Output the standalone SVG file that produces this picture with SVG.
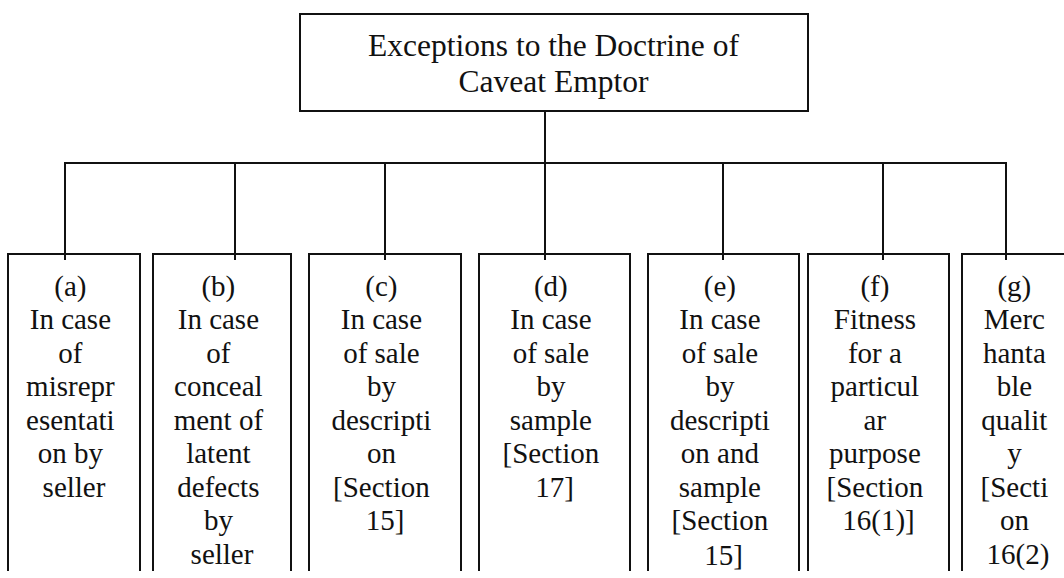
<svg xmlns="http://www.w3.org/2000/svg" width="1064" height="578" viewBox="0 0 1064 578">
  <style>
    .box { fill: #ffffff; stroke: #111111; stroke-width: 2; }
    .wire { fill: none; stroke: #111111; stroke-width: 2; }
    .head { font-family: "Liberation Serif", "Times New Roman", serif; font-size: 31.5px; fill: #111111; text-anchor: middle; }
    .lbl { font-family: "Liberation Serif", "Times New Roman", serif; font-size: 29px; fill: #111111; text-anchor: middle; }
  </style>
  <defs>
    <clipPath id="sheet">
      <rect x="0" y="0" width="1064" height="571"/>
    </clipPath>
  </defs>
  <rect x="0" y="0" width="1064" height="578" fill="#ffffff"/>

  <!-- connectors: trunk, bus and drops -->
  <g id="connectors" class="wire">
    <line x1="545" y1="111" x2="545" y2="163"/>
    <line x1="64" y1="163" x2="1007" y2="163"/>
    <line x1="65" y1="163" x2="65" y2="260"/>
    <line x1="235" y1="163" x2="235" y2="260"/>
    <line x1="385" y1="163" x2="385" y2="260"/>
    <line x1="545" y1="163" x2="545" y2="260"/>
    <line x1="723" y1="163" x2="723" y2="260"/>
    <line x1="883" y1="163" x2="883" y2="260"/>
    <line x1="1006" y1="163" x2="1006" y2="260"/>
  </g>

  <!-- heading -->
  <g id="root">
    <rect class="box" x="300" y="14" width="508" height="97"/>
    <text class="head" x="553.5" y="55.5">Exceptions to the Doctrine of</text>
    <text class="head" x="553.5" y="91.7">Caveat Emptor</text>
  </g>

  <g clip-path="url(#sheet)">
    <g id="node-a">
      <rect class="box" x="8" y="254" width="132" height="340"/>
      <text class="lbl" x="74">
        <tspan x="74" y="295.5">(a)</tspan>
        <tspan x="74" y="329">In case</tspan>
        <tspan x="74" y="362.5">of</tspan>
        <tspan x="74" y="396">misrepr</tspan>
        <tspan x="74" y="429.5">esentati</tspan>
        <tspan x="74" y="463">on by</tspan>
        <tspan x="74" y="496.5">seller</tspan>
      </text>
    </g>

    <g id="node-b">
      <rect class="box" x="153" y="254" width="138" height="340"/>
      <text class="lbl" x="222">
        <tspan x="222" y="295.5">(b)</tspan>
        <tspan x="222" y="329">In case</tspan>
        <tspan x="222" y="362.5">of</tspan>
        <tspan x="222" y="396">conceal</tspan>
        <tspan x="222" y="429.5">ment of</tspan>
        <tspan x="222" y="463">latent</tspan>
        <tspan x="222" y="496.5">defects</tspan>
        <tspan x="222" y="530">by</tspan>
        <tspan x="222" y="563.5">seller</tspan>
      </text>
    </g>

    <g id="node-c">
      <rect class="box" x="309" y="254" width="152" height="340"/>
      <text class="lbl" x="385">
        <tspan x="385" y="295.5">(c)</tspan>
        <tspan x="385" y="329">In case</tspan>
        <tspan x="385" y="362.5">of sale</tspan>
        <tspan x="385" y="396">by</tspan>
        <tspan x="385" y="429.5">descripti</tspan>
        <tspan x="385" y="463">on</tspan>
        <tspan x="385" y="496.5">[Section</tspan>
        <tspan x="385" y="530">15]</tspan>
      </text>
    </g>

    <g id="node-d">
      <rect class="box" x="479" y="254" width="151" height="340"/>
      <text class="lbl" x="554.5">
        <tspan x="554.5" y="295.5">(d)</tspan>
        <tspan x="554.5" y="329">In case</tspan>
        <tspan x="554.5" y="362.5">of sale</tspan>
        <tspan x="554.5" y="396">by</tspan>
        <tspan x="554.5" y="429.5">sample</tspan>
        <tspan x="554.5" y="463">[Section</tspan>
        <tspan x="554.5" y="496.5">17]</tspan>
      </text>
    </g>

    <g id="node-e">
      <rect class="box" x="648" y="254" width="151" height="340"/>
      <text class="lbl" x="723.5">
        <tspan x="723.5" y="295.5">(e)</tspan>
        <tspan x="723.5" y="329">In case</tspan>
        <tspan x="723.5" y="362.5">of sale</tspan>
        <tspan x="723.5" y="396">by</tspan>
        <tspan x="723.5" y="429.5">descripti</tspan>
        <tspan x="723.5" y="463">on and</tspan>
        <tspan x="723.5" y="496.5">sample</tspan>
        <tspan x="723.5" y="530">[Section</tspan>
        <tspan x="723.5" y="564.5">15]</tspan>
      </text>
    </g>

    <g id="node-f">
      <rect class="box" x="808" y="254" width="141" height="340"/>
      <text class="lbl" x="878.5">
        <tspan x="878.5" y="295.5">(f)</tspan>
        <tspan x="878.5" y="329">Fitness</tspan>
        <tspan x="878.5" y="362.5">for a</tspan>
        <tspan x="878.5" y="396">particul</tspan>
        <tspan x="878.5" y="429.5">ar</tspan>
        <tspan x="878.5" y="463">purpose</tspan>
        <tspan x="878.5" y="496.5">[Section</tspan>
        <tspan x="878.5" y="530">16(1)]</tspan>
      </text>
    </g>

    <g id="node-g">
      <rect class="box" x="962" y="254" width="114" height="340"/>
      <text class="lbl" x="1018">
        <tspan x="1018" y="295.5">(g)</tspan>
        <tspan x="1018" y="329">Merc</tspan>
        <tspan x="1018" y="362.5">hanta</tspan>
        <tspan x="1018" y="396">ble</tspan>
        <tspan x="1018" y="429.5">qualit</tspan>
        <tspan x="1018" y="463">y</tspan>
        <tspan x="1018" y="496.5">[Secti</tspan>
        <tspan x="1018" y="530">on</tspan>
        <tspan x="1018" y="563.5">16(2)</tspan>
      </text>
    </g>
  </g>

  <!-- drops are drawn over the box tops -->
  <g id="drops" class="wire">
    <line x1="65" y1="250" x2="65" y2="260"/>
    <line x1="235" y1="250" x2="235" y2="260"/>
    <line x1="385" y1="250" x2="385" y2="260"/>
    <line x1="545" y1="250" x2="545" y2="260"/>
    <line x1="723" y1="250" x2="723" y2="260"/>
    <line x1="883" y1="250" x2="883" y2="260"/>
    <line x1="1006" y1="250" x2="1006" y2="260"/>
  </g>
</svg>
